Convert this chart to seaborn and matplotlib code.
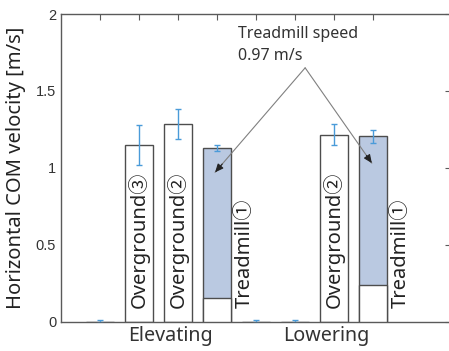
import matplotlib
matplotlib.use("Agg")
import matplotlib.pyplot as plt
import seaborn as sns
import pandas as pd

# Bar slots along the x axis (empty slots have zero height)
positions = [1, 2, 3, 4, 5, 6, 7, 8]
velocity = [0.0, 1.145, 1.285, 1.128, 0.0, 0.0, 1.215, 1.204]
velocity_sd = [0.01, 0.13, 0.10, 0.02, 0.01, 0.01, 0.07, 0.04]
is_treadmill = [False, False, False, True, False, False, False, True]

# White base segment inside the treadmill bars
treadmill_pos = [4, 8]
treadmill_base = [0.156, 0.235]

bar_labels = ["Overground\u2462", "Overground\u2461", "Treadmill\u2460",
              "Overground\u2461", "Treadmill\u2460"]
bar_label_x = [2, 3, 4.72, 7, 8.72]

group_names = ["Elevating", "Lowering"]
group_x = [2.8, 6.8]

yticks = [0, 0.5, 1, 1.5, 2]
ytick_labels = ["0", "0.5", "1", "1.5", "2"]

speed_text = "Treadmill speed\n0.97 m/s"
speed_targets = [(3.95, 0.97), (7.97, 1.03)]

sns.set_style("white")
plt.rcParams["font.family"] = ["Noto Sans", "Noto Sans CJK JP", "DejaVu Sans"]

BLUE = "#b4c7e7"
EDGE = "#4d4d4d"
ERR = "#4a9bd9"
AXC = "#5a5a5a"

fig = plt.figure(figsize=(4.49, 3.51), dpi=100)
W, H = 449, 351
ax = fig.add_axes([61 / W, (H - 321.5) / H, 390 / W, 307.5 / H])

df = pd.DataFrame({"pos": positions, "v": velocity,
                   "kind": ["T" if t else "O" for t in is_treadmill]})
sns.barplot(data=df, x="pos", y="v", hue="kind", native_scale=True,
            palette={"T": BLUE, "O": "white"}, dodge=False, width=0.72,
            errorbar=None, legend=False, ax=ax,
            edgecolor=EDGE, linewidth=1.0)

# White base of the treadmill bars
ax.bar(treadmill_pos, treadmill_base, width=0.72, color="white",
       edgecolor=EDGE, linewidth=1.0, zorder=3)

ax.errorbar(positions, velocity, yerr=velocity_sd, fmt="none",
            ecolor=ERR, elinewidth=1.0, capsize=2.5, capthick=1.0, zorder=4)

for lab, x in zip(bar_labels, bar_label_x):
    ax.text(x, 0.09, lab, rotation=90, ha="center", va="bottom",
            fontsize=14.5, color="#222222", zorder=5)

apex = (6.26, 1.65)
for tx, ty in speed_targets:
    ax.annotate("", xy=(tx, ty), xytext=apex,
                arrowprops=dict(arrowstyle="-", color="#808080", lw=0.8,
                                shrinkA=0, shrinkB=0), zorder=6)
    dx, dy = tx - apex[0], ty - apex[1]
    ax.annotate("", xy=(tx, ty), xytext=(tx - dx * 0.08, ty - dy * 0.08),
                arrowprops=dict(arrowstyle="-|>,head_length=0.5,head_width=0.22",
                                color="#222222", lw=0.8, shrinkA=0, shrinkB=0),
                zorder=6)
ax.text(4.54, 1.925, speed_text, ha="left", va="top", fontsize=11.5,
        color="#333333", linespacing=1.55)

for name, x in zip(group_names, group_x):
    ax.text(x, -0.03, name, ha="center", va="top", fontsize=14.2,
            color="#333333")

ax.set_xlim(0, 10)
ax.set_ylim(0, 2)
ax.set_xticks(positions)
ax.set_xticklabels([])
ax.set_yticks(yticks)
ax.set_yticklabels(ytick_labels, fontsize=10.5, color="#333333",
                   family=["Liberation Sans"])
ax.set_xlabel("")
ax.set_ylabel("Horizontal COM velocity [m/s]", fontsize=14.5,
              color="#222222", labelpad=7)
ax.tick_params(direction="in", length=4, width=0.8, color=AXC,
               top=True, right=True, bottom=False)
for s in ax.spines.values():
    s.set_color(AXC)
    s.set_linewidth(1.0)
    s.set_visible(True)

fig.savefig("out.png", dpi=100)
